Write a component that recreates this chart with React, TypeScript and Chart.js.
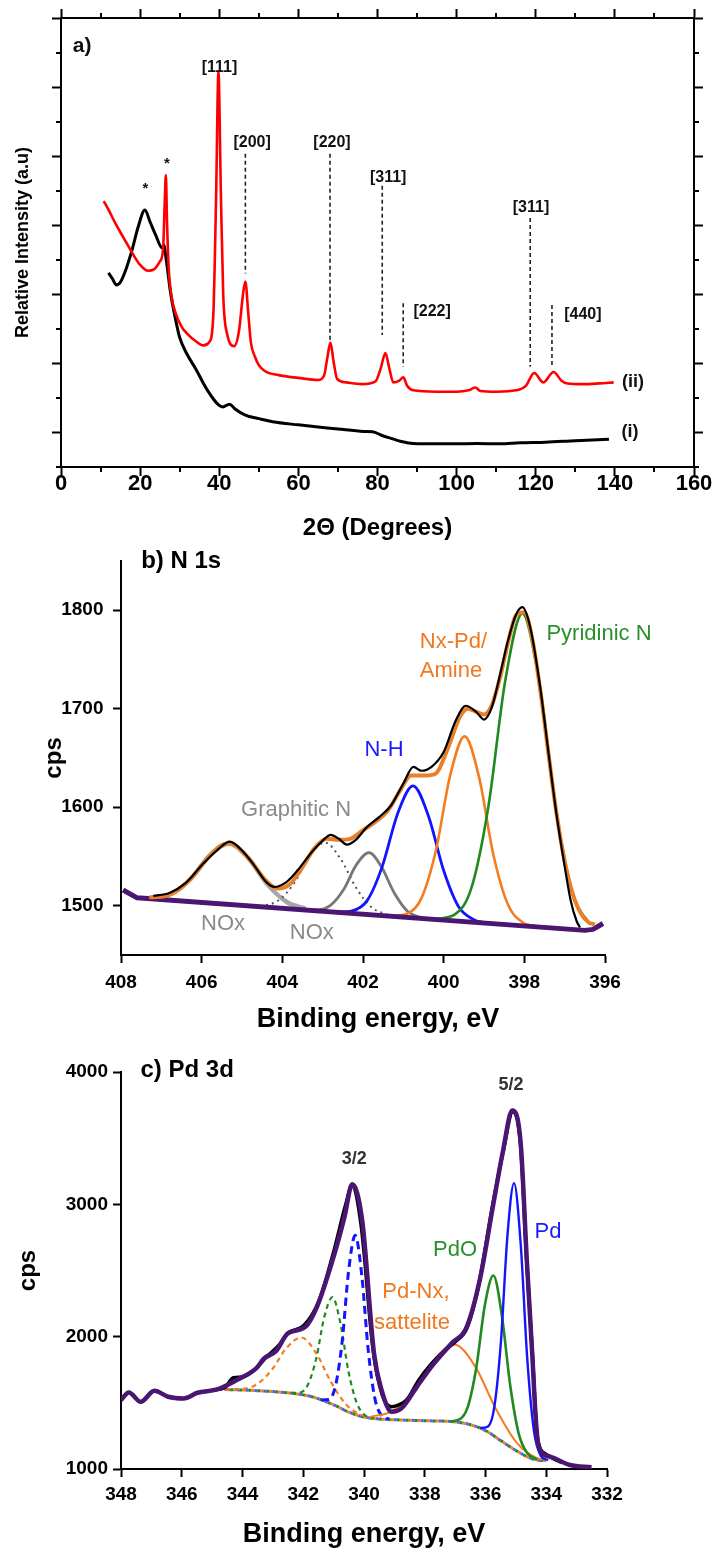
import React, { useEffect, useRef } from 'react';
import { Chart, registerables } from 'chart.js';

Chart.register(...registerables);

const FONT = '"Liberation Sans", Arial, Helvetica, sans-serif';
Chart.defaults.font.family = FONT;
Chart.defaults.color = '#000';

// ---------------- Panel a: XRD ----------------
const redX = [10.8, 12, 14, 16, 18, 20, 22, 23.5, 25, 25.8, 26.2, 26.5, 26.8, 27.2, 28, 29, 30.5, 32, 34, 36, 37.5, 38.5, 39.2, 39.8, 40.4, 41, 42, 43.8, 45, 46, 46.6, 47.3, 48, 49, 50, 51.5, 55, 60, 65, 66.5, 67.3, 68.1, 68.9, 69.8, 72, 76, 79.5, 80.8, 82, 83, 84, 85.5, 86.5, 87.5, 89, 95, 100, 103, 104.7, 106, 110, 115, 117.5, 119.6, 121.9, 124.5, 126.5, 128, 132, 136, 139.7];
const redY = [7.7, 7.45, 7.0, 6.6, 6.2, 5.85, 5.68, 5.72, 5.95, 6.3, 7.6, 8.45, 7.1, 5.8, 4.9, 4.45, 4.06, 3.85, 3.65, 3.52, 3.62, 4.4, 7.8, 11.45, 8.0, 5.0, 3.85, 3.5, 3.95, 5.0, 5.37, 4.5, 3.6, 3.2, 2.95, 2.78, 2.66, 2.58, 2.52, 2.65, 3.15, 3.6, 3.05, 2.55, 2.45, 2.4, 2.48, 2.85, 3.3, 2.85, 2.45, 2.5, 2.6, 2.35, 2.22, 2.18, 2.18, 2.22, 2.3, 2.2, 2.18, 2.22, 2.35, 2.72, 2.45, 2.75, 2.5, 2.42, 2.4, 2.42, 2.45];
const blackX = [12, 13, 14, 15, 16.5, 18, 19.5, 21.2, 22.5, 24, 25.5, 26, 26.6, 27.7, 29, 30, 31.7, 34, 37.4, 40.9, 42.6, 44, 46.6, 50, 53.5, 60, 65, 70, 76.5, 78.8, 81, 83.4, 86, 89, 95, 100, 105, 111, 116, 122.5, 130, 138.5];
const blackY = [5.62, 5.45, 5.27, 5.35, 5.75, 6.3, 6.95, 7.44, 7.1, 6.7, 6.35, 6.42, 6.0, 5.04, 4.25, 3.75, 3.3, 2.85, 2.15, 1.74, 1.82, 1.68, 1.5, 1.4, 1.31, 1.22, 1.16, 1.1, 1.03, 1.02, 0.92, 0.83, 0.74, 0.68, 0.67, 0.67, 0.68, 0.67, 0.7, 0.72, 0.76, 0.8];
const peakLineX = [46.6, 68.0, 81.2, 86.5, 118.6, 124.1];
const peakLineTop = [9.07, 9.07, 8.14, 4.74, 7.21, 4.69];
const peakLineBottom = [5.6, 3.68, 3.82, 2.9, 2.9, 2.9];
const hklText = ['[111]', '[200]', '[220]', '[311]', '[222]', '[311]', '[440]'];
const hklX = [40.07, 48.3, 68.5, 82.7, 93.8, 118.8, 131.9];
const hklY = [11.56, 9.39, 9.39, 8.37, 4.49, 7.5, 4.4];
const starX = [21.36, 26.8];
const starY = [8.05, 8.78];
const aMajorY = [1, 3, 5, 7, 9, 11, 13];
const aMinorY = [0, 2, 4, 6, 8, 10, 12];
const aMinorX = [10, 30, 50, 70, 90, 110, 130, 150];

// ---------------- Panel b: N 1s ----------------
const nBaseX = [407.95, 407.6, 396.5, 396.3, 396.05];
const nBaseY = [1516, 1508, 1475, 1476, 1482];
const nEnvX = [407.3, 407.0, 406.6, 406.2, 405.8, 405.5, 405.3, 405.1, 404.8, 404.5, 404.3, 404.1, 403.8, 403.5, 403.2, 402.9, 402.6, 402.3, 402.0, 401.7, 401.4, 401.1, 400.8, 400.5, 400.2, 399.9, 399.6, 399.4, 399.2, 399.0, 398.8, 398.6, 398.4, 398.2, 398.0, 397.8, 397.6, 397.4, 397.2, 397.0, 396.8, 396.6, 396.4, 396.25];
const nEnvY = [1508.5, 1509.1, 1515.5, 1530.6, 1550.9, 1561.6, 1563.1, 1559.3, 1546.1, 1530.0, 1521.5, 1517.5, 1522.3, 1539.2, 1558.5, 1568.0, 1566.9, 1568.2, 1576.6, 1584.9, 1595.6, 1615.5, 1632.1, 1632.1, 1634.0, 1659.3, 1691.5, 1700.0, 1697.0, 1694.0, 1704.2, 1731.9, 1768.0, 1795.2, 1798.0, 1770.0, 1717.4, 1653.8, 1593.1, 1545.0, 1512.1, 1492.4, 1483.0, 1481];
const nDataX = [407.2, 406.8, 406.4, 406.0, 405.6, 405.3, 405.0, 404.7, 404.4, 404.2, 403.9, 403.6, 403.3, 403.0, 402.8, 402.6, 402.4, 402.2, 401.9, 401.6, 401.3, 401.0, 400.75, 400.55, 400.3, 400.0, 399.7, 399.45, 399.2, 399.0, 398.8, 398.6, 398.4, 398.2, 398.05, 397.85, 397.6, 397.4, 397.2, 397.0, 396.85, 396.7, 396.62];
const nDataY = [1510, 1513, 1523, 1541, 1557, 1565, 1556, 1541, 1524, 1519, 1524, 1537, 1553, 1566, 1572, 1568, 1562, 1566, 1580, 1590, 1602, 1624, 1641, 1637, 1641, 1656, 1688, 1703, 1697, 1689, 1702, 1735, 1770, 1796, 1803, 1782, 1720, 1655, 1592, 1540, 1505, 1484, 1478];
const pyridX = [400.21, 399.73, 399.31, 398.89, 398.47, 398.05, 397.63, 397.21, 396.79, 396.37];
const pyridY = [1486.5, 1490.9, 1518.3, 1601.0, 1729.1, 1796.6, 1726.6, 1596.0, 1510.8, 1480.9];
const aminX = [401.32, 400.91, 400.55, 400.19, 399.84, 399.48, 399.12, 398.77, 398.41, 398.05, 397.64];
const aminY = [1489.6, 1491.8, 1507.7, 1556.5, 1632.1, 1671.9, 1630.0, 1552.2, 1501.4, 1483.3, 1478.7];
const nhX = [402.7, 402.27, 401.89, 401.52, 401.14, 400.76, 400.38, 400.0, 399.63, 399.25, 398.82];
const nhY = [1493.6, 1494.9, 1505.7, 1540.2, 1593.7, 1621.7, 1591.4, 1535.7, 1499.0, 1485.9, 1482.1];
const graphX = [403.47, 403.11, 402.8, 402.48, 402.17, 401.85, 401.54, 401.22, 400.91, 400.59, 400.23];
const graphY = [1495.8, 1495.9, 1500.6, 1516.4, 1541.2, 1553.9, 1539.3, 1512.6, 1495.0, 1488.4, 1486.2];
const nox2X = [404.7, 404.48, 404.1, 403.71, 403.33, 402.94, 402.56, 402.17, 401.79, 401.4];
const nox2Y = [1499.5, 1500.1, 1505.3, 1522.7, 1550.1, 1564.1, 1547.8, 1518.2, 1498.4, 1491.0];
const nox1X = [407.22, 406.75, 406.27, 405.8, 405.32, 404.84, 404.37, 403.89, 403.42];
const nox1Y = [1508.1, 1512.3, 1527.3, 1551.1, 1563.2, 1548.3, 1521.7, 1503.8, 1496.8];
const nTicksY = [1500, 1600, 1700, 1800];

// ---------------- Panel c: Pd 3d ----------------
const pdEnvX = [348.0, 347.74, 347.35, 346.9, 346.45, 345.94, 345.48, 344.84, 344.19, 343.55, 343.29, 342.9, 342.51, 341.93, 341.55, 340.97, 340.64, 340.39, 340.06, 339.67, 339.42, 339.09, 338.77, 338.26, 337.74, 337.09, 336.64, 336.19, 335.74, 335.42, 335.12, 334.84, 334.64, 334.45, 334.35, 334.25, 333.87, 333.22, 332.51];
const pdEnvY = [1521, 1579, 1508, 1591, 1546, 1533, 1576, 1601, 1672, 1760, 1835, 1890, 2024, 2074, 2225, 2628, 2907, 3151, 2879, 1873, 1596, 1432, 1458, 1621, 1785, 1955, 2062, 2426, 3005, 3408, 3709, 3458, 2577, 1823, 1400, 1168, 1093, 1030, 1013];
const pdDataX = [345.0, 344.6, 344.3, 344.0, 343.6, 343.2, 342.8, 342.5, 342.0, 341.5, 341.0, 340.6, 340.4, 340.1, 339.7, 339.4, 339.1, 338.9, 338.6, 338.2, 337.8, 337.3, 337.0, 336.6, 336.2, 335.8, 335.4, 335.1, 334.85, 334.65, 334.45, 334.3, 334.0, 333.5];
const pdDataY = [1598, 1612, 1690, 1695, 1752, 1850, 1935, 2030, 2080, 2260, 2640, 3000, 3140, 2850, 1900, 1560, 1470, 1480, 1520, 1670, 1790, 1905, 1960, 2070, 2420, 2950, 3420, 3700, 3460, 2600, 1850, 1250, 1110, 1050];
const bgX = [344.6, 344.0, 343.0, 342.3, 341.7, 341.0, 340.5, 340.0, 339.5, 339.0, 338.0, 337.0, 336.5, 336.0, 335.5, 335.0, 334.5, 334.2, 334.0];
const bgY = [1601, 1597, 1585, 1571, 1545, 1485, 1430, 1393, 1378, 1372, 1365, 1356, 1335, 1290, 1215, 1140, 1080, 1065, 1063];
const pd32X = [341.41, 341.16, 340.94, 340.72, 340.51, 340.29, 340.07, 339.86, 339.64, 339.42, 339.17];
const pd32Y = [1522, 1525.5, 1627.0, 1960.8, 2488.9, 2765.5, 2456.0, 1895.4, 1530.8, 1403.8, 1376.0];
const pdo32X = [342.41, 342.1, 341.84, 341.57, 341.31, 341.04, 340.77, 340.51, 340.24, 339.98, 339.67];
const pdo32Y = [1574.4, 1578.3, 1640.2, 1837.7, 2145.8, 2298.4, 2093.9, 1734.9, 1499.9, 1408.4, 1384.3];
const pdn32X = [344.58, 344.02, 343.53, 343.04, 342.55, 342.06, 341.57, 341.08, 340.59, 340.1, 339.54];
const pdn32Y = [1601.6, 1605.6, 1639.0, 1747.9, 1915.0, 1993.6, 1872.9, 1654.3, 1487.5, 1409.0, 1379.8];
const pd52X = [336.18, 335.93, 335.71, 335.49, 335.28, 335.06, 334.84, 334.63, 334.41, 334.19, 333.94];
const pd52Y = [1309.2, 1319.3, 1467.7, 1967.6, 2756.6, 3160, 2695.4, 1849.7, 1296.7, 1104.8, 1066];
const pdo52X = [337.18, 336.86, 336.58, 336.3, 336.02, 335.74, 335.46, 335.18, 334.9, 334.62, 334.3];
const pdo52Y = [1359.4, 1374.1, 1471.6, 1771.1, 2240.0, 2462, 2157.2, 1621.1, 1261.2, 1118.4, 1071.8];
const pdn52X = [339.75, 339.07, 338.39, 337.71, 337.03, 336.35, 335.67, 334.99, 334.31, 334.0];
const pdn52Y = [1397.1, 1437.2, 1587.1, 1820.5, 1941.3, 1779.6, 1459.9, 1203.2, 1082.1, 1069];
const cTicksY = [1000, 2000, 3000, 4000];

// ---------------- helpers ----------------
type P = { x: number; y: number };
const pts = (xs: number[], ys: number[]): P[] => xs.map((x, i) => ({ x, y: ys[i] }));
const plain = (v: any) => String(v);

function ds(data: P[], color: string, width: number, extra: any = {}) {
  return {
    data,
    borderColor: color,
    backgroundColor: color,
    borderWidth: width,
    pointRadius: 0,
    showLine: true,
    fill: false,
    cubicInterpolationMode: 'monotone',
    borderJoinStyle: 'round',
    ...extra,
  };
}

type TextItem = {
  t: string;
  x: number;
  y?: number;
  below?: number;
  font: string;
  color: string;
  align?: CanvasTextAlign;
};

function textPlugin(items: TextItem[]) {
  return {
    id: 'texts',
    afterDraw(chart: any) {
      const { ctx } = chart;
      const xs = chart.scales.x;
      const ys = chart.scales.y;
      ctx.save();
      for (const it of items) {
        const px = xs.getPixelForValue(it.x);
        const py = it.below != null ? chart.chartArea.bottom + it.below : ys.getPixelForValue(it.y as number);
        ctx.font = it.font;
        ctx.fillStyle = it.color;
        ctx.textAlign = it.align ?? 'center';
        ctx.textBaseline = 'middle';
        ctx.fillText(it.t, px, py);
      }
      ctx.restore();
    },
  };
}

function minorTickPlugin(xv: number[], yv: number[], len: number) {
  return {
    id: 'minorTicks',
    afterDraw(chart: any) {
      const { ctx, chartArea: a } = chart;
      const xs = chart.scales.x;
      const ys = chart.scales.y;
      ctx.save();
      ctx.strokeStyle = '#000';
      ctx.lineWidth = 2;
      ctx.beginPath();
      for (const v of xv) {
        const p = Math.round(xs.getPixelForValue(v));
        ctx.moveTo(p, a.bottom);
        ctx.lineTo(p, a.bottom + len);
        ctx.moveTo(p, a.top);
        ctx.lineTo(p, a.top - len);
      }
      for (const v of yv) {
        const p = Math.round(ys.getPixelForValue(v));
        ctx.moveTo(a.left, p);
        ctx.lineTo(a.left - len, p);
        ctx.moveTo(a.right, p);
        ctx.lineTo(a.right + len, p);
      }
      ctx.stroke();
      ctx.restore();
    },
  };
}

const border = { display: true, color: '#000', width: 2 };
const tickGrid = (len: number) => ({
  display: true,
  drawOnChartArea: false,
  drawTicks: true,
  tickLength: len,
  tickWidth: 2,
  tickColor: '#000',
});

const baseOptions = {
  animation: false,
  responsive: false,
  maintainAspectRatio: false,
  events: [],
  plugins: { legend: { display: false }, tooltip: { enabled: false } },
};

function configA(): any {
  const datasets: any[] = [
    ds(pts(redX, redY), '#ff0000', 2.6),
    ds(pts(blackX, blackY), '#000000', 3),
  ];
  peakLineX.forEach((x, i) => {
    datasets.push(
      ds(pts([x, x], [peakLineTop[i], peakLineBottom[i]]), '#222222', 1.6, {
        borderDash: [4, 3],
        cubicInterpolationMode: 'default',
        tension: 0,
      })
    );
  });
  const bold = (s: number) => `bold ${s}px ${FONT}`;
  const texts: TextItem[] = [
    { t: 'a)', x: 3.0, y: 12.17, font: bold(21), color: '#111', align: 'left' },
    ...hklText.map((t, i) => ({ t, x: hklX[i], y: hklY[i], font: bold(16), color: '#111' })),
    ...starX.map((x, i) => ({ t: '*', x, y: starY[i], font: bold(15), color: '#111' })),
    { t: '(ii)', x: 144.6, y: 2.45, font: bold(18), color: '#111' },
    { t: '(i)', x: 143.8, y: 1.0, font: bold(18), color: '#111' },
  ];
  return {
    type: 'scatter',
    data: { datasets },
    plugins: [minorTickPlugin(aMinorX, aMinorY, 5), textPlugin(texts)],
    options: {
      ...baseOptions,
      layout: { padding: 0 },
      scales: {
        x: {
          type: 'linear', position: 'bottom', min: 0, max: 160,
          ticks: { stepSize: 20, callback: plain, font: { size: 22, weight: 'bold', lineHeight: 1 }, padding: -3, color: '#000', maxRotation: 0, autoSkip: false },
          grid: tickGrid(9), border,
          title: { display: true, text: '2Θ (Degrees)', color: '#000', font: { size: 24, weight: 'bold' }, padding: { top: 0, bottom: 2.6 } },
          afterFit: (s: any) => { s.height = 78; },
        },
        x2: {
          type: 'linear', position: 'top', min: 0, max: 160,
          ticks: { stepSize: 20, display: false },
          grid: tickGrid(9), border,
          afterFit: (s: any) => { s.height = 18; },
        },
        y: {
          type: 'linear', position: 'left', min: 0, max: 13,
          afterBuildTicks: (s: any) => { s.ticks = aMajorY.map((v) => ({ value: v })); },
          ticks: { display: false },
          grid: tickGrid(9), border,
          title: { display: true, text: 'Relative Intensity (a.u)', color: '#000', font: { size: 18, weight: 'bold' }, padding: { top: 12, bottom: 0 } },
          afterFit: (s: any) => { s.width = 61; },
        },
        y2: {
          type: 'linear', position: 'right', min: 0, max: 13,
          afterBuildTicks: (s: any) => { s.ticks = aMajorY.map((v) => ({ value: v })); },
          ticks: { display: false },
          grid: tickGrid(9), border,
          afterFit: (s: any) => { s.width = 19; },
        },
      },
    },
  };
}

function configB(): any {
  const datasets: any[] = [
    ds(pts(nDataX, nDataY), '#000000', 2.2),
    ds(pts(nEnvX, nEnvY), '#e8802a', 4),
    ds(pts(nBaseX, nBaseY), '#4b1572', 5, { cubicInterpolationMode: 'default', tension: 0 }),
    ds(pts(pyridX, pyridY), '#1f8a1f', 2.6),
    ds(pts(aminX, aminY), '#f57c1f', 2.6),
    ds(pts(nhX, nhY), '#1414ff', 2.8),
    ds(pts(graphX, graphY), '#777777', 2.8),
    ds(pts(nox2X, nox2Y), '#555555', 2, { borderDash: [2, 4] }),
    ds(pts(nox1X, nox1Y), '#a6a6a6', 4.5),
  ];
  const reg = (s: number) => `${s}px ${FONT}`;
  const bold = (s: number) => `bold ${s}px ${FONT}`;
  const texts: TextItem[] = [
    { t: 'b) N 1s', x: 407.5, y: 1850, font: bold(24), color: '#000', align: 'left' },
    { t: 'Pyridinic N', x: 396.15, y: 1775.8, font: reg(22), color: '#2a8f2a' },
    { t: 'Nx-Pd/', x: 400.59, y: 1767.8, font: reg(22), color: '#f07820', align: 'left' },
    { t: 'Amine', x: 400.59, y: 1738.7, font: reg(22), color: '#f07820', align: 'left' },
    { t: 'N-H', x: 401.48, y: 1658.5, font: reg(22), color: '#1a1aff' },
    { t: 'Graphitic N', x: 403.66, y: 1597.4, font: reg(22), color: '#8a8a8a' },
    { t: 'NOx', x: 405.47, y: 1482, font: reg(22), color: '#8a8a8a' },
    { t: 'NOx', x: 403.27, y: 1472, font: reg(22), color: '#8a8a8a' },
    { t: 'Binding energy, eV', x: 401.63, below: 65, font: bold(27), color: '#000' },
  ];
  return {
    type: 'scatter',
    data: { datasets },
    plugins: [textPlugin(texts)],
    options: {
      ...baseOptions,
      layout: { padding: { top: 16, right: 108, left: 0, bottom: 0 } },
      scales: {
        x: {
          type: 'linear', position: 'bottom', min: 396, max: 408, reverse: true,
          ticks: { stepSize: 2, callback: plain, font: { size: 19, weight: 'bold' }, padding: 8.6, color: '#000', maxRotation: 0, autoSkip: false },
          grid: tickGrid(8), border,
          afterFit: (s: any) => { s.height = 85; },
        },
        y: {
          type: 'linear', position: 'left', min: 1450, max: 1850,
          afterBuildTicks: (s: any) => { s.ticks = nTicksY.map((v) => ({ value: v })); },
          ticks: { callback: plain, font: { size: 19, weight: 'bold' }, padding: 9.5, color: '#000' },
          grid: tickGrid(8), border,
          title: { display: true, text: 'cps', color: '#000', font: { size: 24, weight: 'bold' }, padding: { top: 40, bottom: 0 } },
          afterFit: (s: any) => { s.width = 121; },
        },
      },
    },
  };
}

function configC(): any {
  const datasets: any[] = [
    ds(pts(pdEnvX, pdEnvY), '#4b1572', 4.5),
    ds(pts(pdDataX, pdDataY), '#000000', 3.5),
    ds(pts(pd52X, pd52Y), '#1414ff', 2.4),
    ds(pts(pdo52X, pdo52Y), '#1f8a1f', 2.6),
    ds(pts(pdn52X, pdn52Y), '#f57c1f', 2),
    ds(pts(pd32X, pd32Y), '#1414ff', 3, { borderDash: [8, 5] }),
    ds(pts(pdo32X, pdo32Y), '#1f8a1f', 2.2, { borderDash: [5, 4] }),
    ds(pts(pdn32X, pdn32Y), '#f57c1f', 2.2, { borderDash: [5, 4] }),
    ds(pts(bgX, bgY), '#f57c1f', 3, { borderDash: [3, 6], borderDashOffset: 0 }),
    ds(pts(bgX, bgY), '#1f8a1f', 3, { borderDash: [3, 6], borderDashOffset: 3 }),
    ds(pts(bgX, bgY), '#5a5aff', 3, { borderDash: [3, 6], borderDashOffset: 6 }),
  ];
  const reg = (s: number) => `${s}px ${FONT}`;
  const bold = (s: number) => `bold ${s}px ${FONT}`;
  const texts: TextItem[] = [
    { t: 'c) Pd 3d', x: 347.36, y: 4015, font: bold(24), color: '#000', align: 'left' },
    { t: '5/2', x: 335.16, y: 3898, font: bold(18), color: '#333' },
    { t: '3/2', x: 340.32, y: 3340, font: bold(18), color: '#333' },
    { t: 'Pd', x: 333.94, y: 2791, font: reg(22), color: '#1a1aff' },
    { t: 'PdO', x: 337.0, y: 2653, font: reg(22), color: '#2a8f2a' },
    { t: 'Pd-Nx,', x: 338.29, y: 2338, font: reg(22), color: '#f07820' },
    { t: 'sattelite', x: 338.42, y: 2104, font: reg(22), color: '#f07820' },
  ];
  return {
    type: 'scatter',
    data: { datasets },
    plugins: [textPlugin(texts)],
    options: {
      ...baseOptions,
      layout: { padding: { top: 22, right: 106, left: 0, bottom: 0 } },
      scales: {
        x: {
          type: 'linear', position: 'bottom', min: 332, max: 348, reverse: true,
          ticks: { stepSize: 2, callback: plain, font: { size: 19, weight: 'bold' }, padding: 6.6, color: '#000', maxRotation: 0, autoSkip: false },
          grid: tickGrid(8), border,
          title: { display: true, text: 'Binding energy, eV', color: '#000', font: { size: 27, weight: 'bold' }, padding: { top: 0, bottom: 0 } },
          afterFit: (s: any) => { s.height = 82; },
        },
        y: {
          type: 'linear', position: 'left', min: 1000, max: 4000,
          afterBuildTicks: (s: any) => { s.ticks = cTicksY.map((v) => ({ value: v })); },
          ticks: { callback: plain, font: { size: 19, weight: 'bold' }, padding: 5, color: '#000' },
          grid: tickGrid(8), border,
          title: { display: true, text: 'cps', color: '#000', font: { size: 24, weight: 'bold' }, padding: { top: 13.6, bottom: 0 } },
          afterFit: (s: any) => { s.width = 121; },
        },
      },
    },
  };
}

export default function App() {
  const aRef = useRef<HTMLCanvasElement>(null);
  const bRef = useRef<HTMLCanvasElement>(null);
  const cRef = useRef<HTMLCanvasElement>(null);

  useEffect(() => {
    const charts = [
      new Chart(aRef.current as HTMLCanvasElement, configA()),
      new Chart(bRef.current as HTMLCanvasElement, configB()),
      new Chart(cRef.current as HTMLCanvasElement, configC()),
    ];
    return () => charts.forEach((c) => c.destroy());
  }, []);

  return (
    <div style={{ position: 'absolute', left: 0, top: 0, width: 713, height: 1551, background: '#ffffff' }}>
      <canvas ref={aRef} width={713} height={545} style={{ position: 'absolute', left: 0, top: 0 }} />
      <canvas ref={bRef} width={713} height={500} style={{ position: 'absolute', left: 0, top: 540 }} />
      <canvas ref={cRef} width={713} height={501} style={{ position: 'absolute', left: 0, top: 1050 }} />
    </div>
  );
}
